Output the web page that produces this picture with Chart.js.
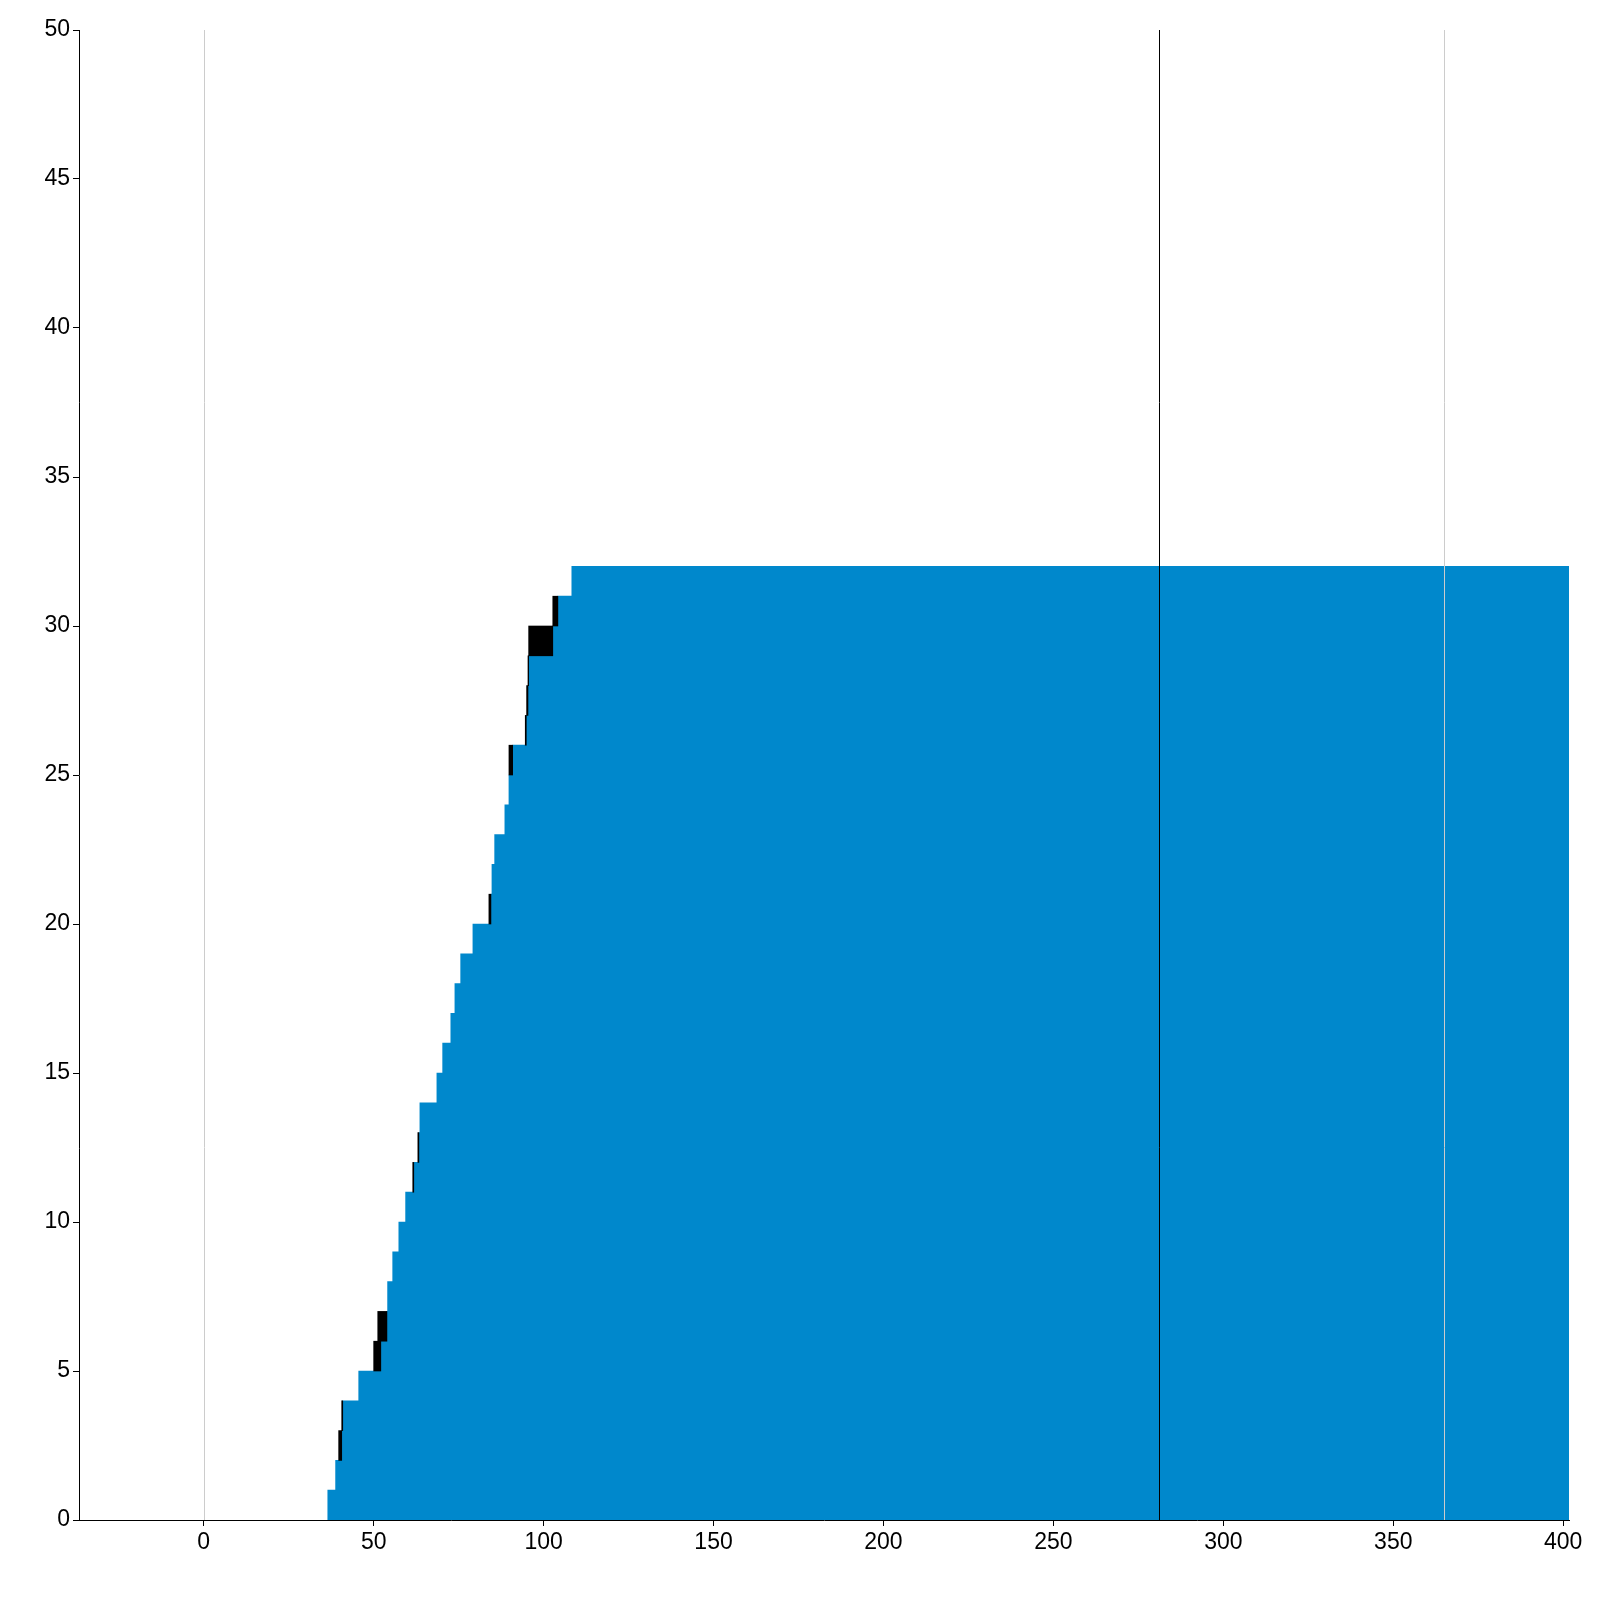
<!DOCTYPE html>
<html lang="en">
<head>
  <meta charset="UTF-8" />
  <title>Step bars</title>
  <script src="https://cdn.jsdelivr.net/npm/chart.js"></script>
  <style>
    html, body { margin: 0; padding: 0; background: #fff; }
    #wrap { width: 1600px; height: 1600px; }
  </style>
</head>
<body>
  <div id="wrap"><canvas id="chart" width="1600" height="1600"></canvas></div>

  <script>
    // Row start values (one row per unit of y, 0..31)
    const blueStart = [36.5, 38.8, 40.6, 40.9, 45.6, 52.1, 53.9, 54.1, 55.6, 57.4,
                       59.4, 61.8, 63.3, 63.6, 68.6, 70.3, 72.7, 73.9, 75.6, 79.2,
                       84.5, 84.8, 85.6, 88.6, 89.8, 90.9, 94.9, 95.4, 95.6, 102.7,
                       104.2, 108.3];
    // black segment starts (null = no black piece in that row), they run up to blueStart
    const blackStart = [null, null, 39.7, 40.6, null, 50.0, 51.2, null, null, null,
                        null, 61.5, 63.0, null, null, null, null, null, null, null,
                        83.9, null, null, null, null, 89.8, 94.6, 95.0, 95.4, 95.6,
                        102.7, null];
    const barEnd = 401.7;

    // reference lines
    const blackLines = [281.1];
    const grayLines = [0, 365];

    // axis ticks
    const xTicks = [0, 50, 100, 150, 200, 250, 300, 350, 400];
    const yTicks = [0, 5, 10, 15, 20, 25, 30, 35, 40, 45, 50];
    const xMin = -36.7, xMax = 401.7;

    const blueData = blueStart.map((s, i) => ({ x: [s, barEnd], y: i + 0.5 }));
    const blackData = [];
    blackStart.forEach((s, i) => {
      if (s !== null) blackData.push({ x: [s, blueStart[i]], y: i + 0.5 });
    });

    // draws the vertical reference lines across the full plot height
    const refLines = {
      id: 'refLines',
      afterDatasetsDraw(chart) {
        const { ctx, chartArea, scales } = chart;
        const draw = (v, color) => {
          const px = Math.round(scales.x.getPixelForValue(v)) + 0.5;
          ctx.save();
          ctx.strokeStyle = color;
          ctx.lineWidth = 1;
          ctx.beginPath();
          ctx.moveTo(px, chartArea.top);
          ctx.lineTo(px, chartArea.bottom);
          ctx.stroke();
          ctx.restore();
        };
        grayLines.forEach(v => draw(v, '#cccccc'));
        blackLines.forEach(v => draw(v, '#000000'));
      }
    };

    const tickFont = { family: "'Liberation Sans', Arial, sans-serif", size: 23 };

    new Chart(document.getElementById('chart').getContext('2d'), {
      type: 'bar',
      data: {
        datasets: [
          {
            label: 'black',
            data: blackData,
            backgroundColor: '#000000',
            borderWidth: 0,
            grouped: false,
            barPercentage: 1,
            categoryPercentage: 1
          },
          {
            label: 'blue',
            data: blueData,
            backgroundColor: '#0088cc',
            borderWidth: 0,
            grouped: false,
            barPercentage: 1,
            categoryPercentage: 1
          }
        ]
      },
      options: {
        indexAxis: 'y',
        responsive: false,
        animation: false,
        layout: { padding: { top: 30, right: 31, left: 0, bottom: 0 } },
        plugins: {
          legend: { display: false },
          tooltip: { enabled: false }
        },
        scales: {
          x: {
            type: 'linear',
            min: xMin,
            max: xMax,
            offset: false,
            afterBuildTicks: (scale) => { scale.ticks = xTicks.map(v => ({ value: v })); },
            afterFit: (scale) => { scale.height = 80; },
            border: { color: '#000', width: 1 },
            grid: { offset: false, drawOnChartArea: false, drawTicks: true, tickLength: 6, color: '#000' },
            ticks: { color: '#000', font: tickFont, padding: 3, maxRotation: 0 }
          },
          y: {
            type: 'linear',
            min: 0,
            max: 50,
            offset: false,
            afterBuildTicks: (scale) => { scale.ticks = yTicks.map(v => ({ value: v })); },
            afterFit: (scale) => { scale.width = 79; },
            border: { color: '#000', width: 1 },
            grid: { offset: false, drawOnChartArea: false, drawTicks: true, tickLength: 6, color: '#000' },
            ticks: { color: '#000', font: tickFont, padding: 3 }
          }
        }
      },
      plugins: [refLines]
    });
  </script>
</body>
</html>
